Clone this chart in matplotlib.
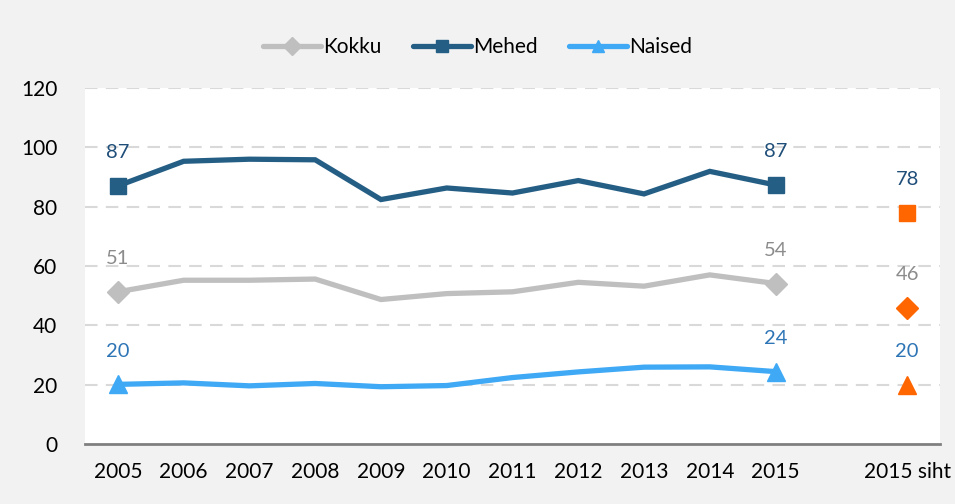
import matplotlib
matplotlib.use("Agg")
import matplotlib.pyplot as plt
from matplotlib.lines import Line2D
import numpy as np

plt.rcParams['font.family'] = ['Lato', 'DejaVu Sans']

years = ["2005", "2006", "2007", "2008", "2009", "2010", "2011", "2012", "2013", "2014", "2015"]
target_label = "2015 siht"
kokku = [51.3, 55.2, 55.2, 55.6, 48.7, 50.7, 51.3, 54.5, 53.2, 57.0, 54.1]
mehed = [87.0, 95.3, 96.0, 95.8, 82.4, 86.3, 84.6, 88.8, 84.3, 91.9, 87.3]
naised = [20.1, 20.6, 19.6, 20.4, 19.3, 19.7, 22.4, 24.3, 25.9, 26.0, 24.4]
targets = {"Kokku": 46, "Mehed": 78, "Naised": 20}

c_kokku = "#bfbfbf"
c_mehed = "#255e85"
c_naised = "#3fa9f5"
c_target = "#ff6600"
lab_kokku = "#8c8c8c"
lab_mehed = "#1f4e79"
lab_naised = "#2e75b6"

fig = plt.figure(figsize=(9.55, 5.04), dpi=100)
fig.patch.set_facecolor("#f2f2f2")
ax = fig.add_axes([85/955, 60/504, 855/955, 356/504])
ax.set_facecolor("white")

x = np.arange(len(years))
xt = len(years) + 1

series = [
    ("Kokku", kokku, c_kokku, "D", 11, lab_kokku),
    ("Mehed", mehed, c_mehed, "s", 12, lab_mehed),
    ("Naised", naised, c_naised, "^", 13, lab_naised),
]

handles = []
for name, vals, col, mk, ms, lc in series:
    ax.plot(x, vals, color=col, lw=3.8, solid_joinstyle="miter", zorder=3,
            marker=mk, markersize=ms, markevery=[0, len(vals) - 1],
            markerfacecolor=col, markeredgecolor=col)
    for i in (0, len(vals) - 1):
        ax.annotate(f"{round(vals[i])}", (x[i], vals[i]), xytext=(0, 24), textcoords="offset points",
                    ha="center", va="center", fontsize=14.5, color=lc)
    tv = targets[name]
    ax.plot([xt], [tv], marker=mk, markersize=ms, color=c_target, linestyle="none", zorder=4)
    ax.annotate(f"{tv}", (xt, tv), xytext=(0, 24), textcoords="offset points",
                ha="center", va="center", fontsize=14.5, color=lc)
    handles.append(Line2D([], [], color=col, lw=3.8, solid_capstyle="round",
                          marker=mk, markersize=9, markerfacecolor=col, markeredgecolor=col, label=name))

ax.set_xlim(-0.5, xt + 0.5)
ax.set_ylim(0, 120)
ax.set_yticks(range(0, 121, 20))
ax.set_xticks(list(x) + [xt])
ax.set_xticklabels(years + [target_label])
ax.tick_params(axis="both", length=0, labelsize=15, colors="black")
ax.tick_params(axis="x", pad=13)
ax.tick_params(axis="y", pad=20)

for yv in range(20, 121, 20):
    ax.axhline(yv, color="#d9d9d9", lw=1.5, dashes=(6, 4), zorder=1)

for s in ("left", "right", "top"):
    ax.spines[s].set_visible(False)
ax.spines["bottom"].set_color("#808080")
ax.spines["bottom"].set_linewidth(2)

fig.legend(handles=handles, loc="center", bbox_to_anchor=(0.5, 1 - 47/504), ncol=3, frameon=False,
           fontsize=15, handlelength=2.8, handletextpad=0.1, columnspacing=1.5, numpoints=1)

fig.savefig("out.png", dpi=100, facecolor=fig.get_facecolor())
